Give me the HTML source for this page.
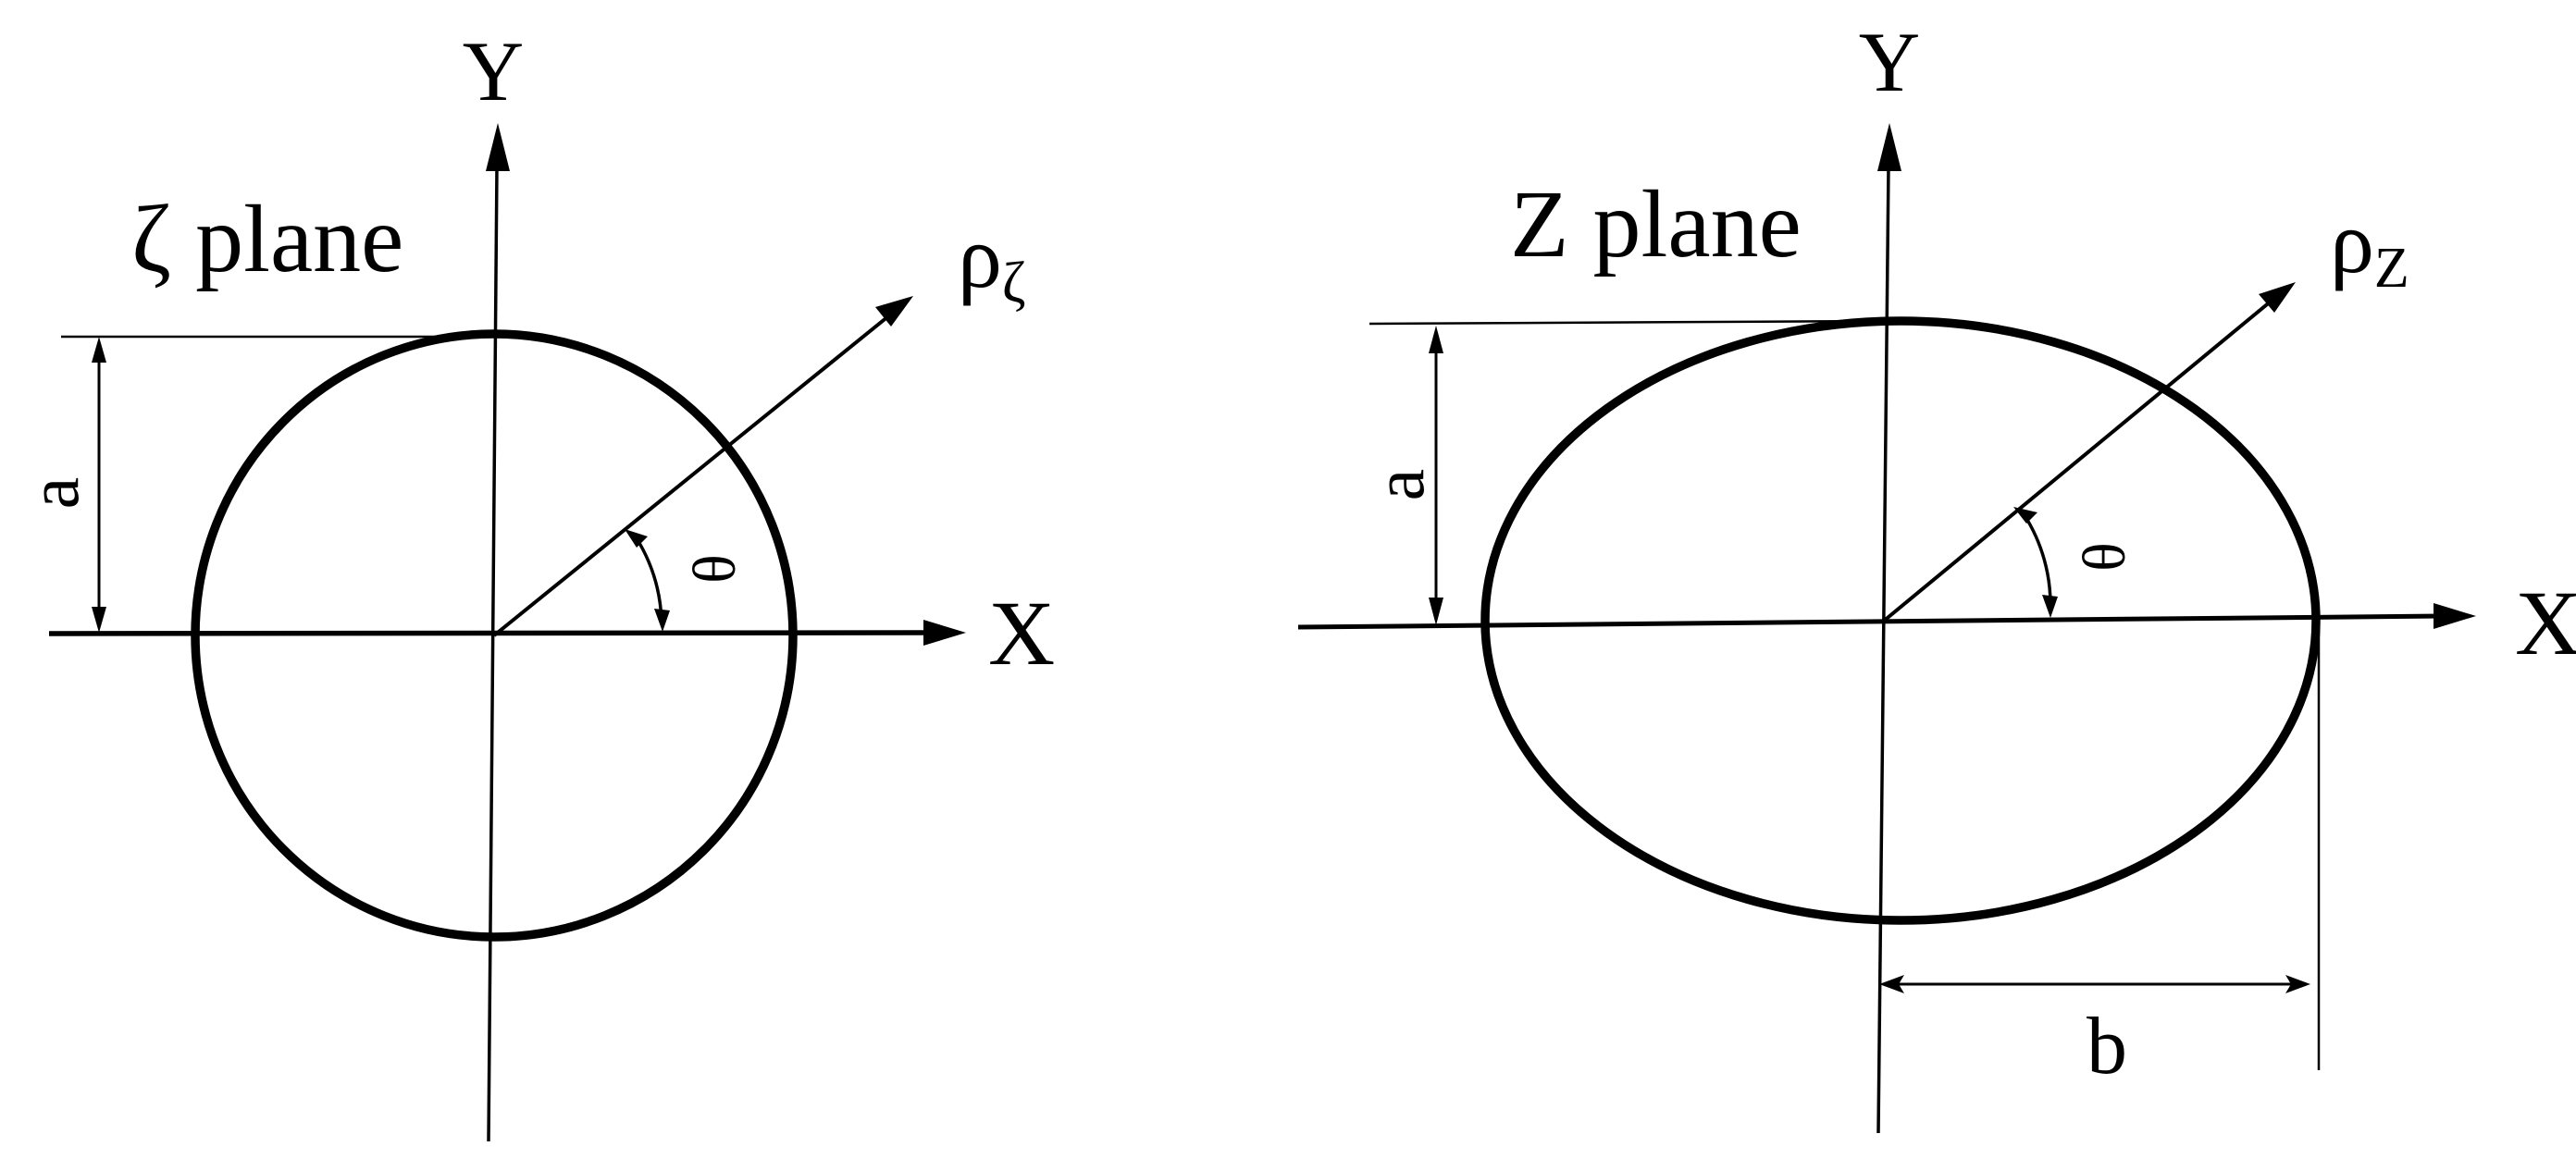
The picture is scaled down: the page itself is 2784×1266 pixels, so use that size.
<!DOCTYPE html>
<html><head><meta charset="utf-8"><style>
html,body{margin:0;padding:0;background:#fff;}
svg{display:block;}
text{font-family:"Liberation Serif","DejaVu Serif",serif;fill:#000;}
</style></head><body>
<svg width="2784" height="1266" viewBox="0 0 2784 1266" xmlns="http://www.w3.org/2000/svg">
<g stroke="#000" fill="none">
<!-- LEFT -->
<ellipse cx="534" cy="687" rx="323" ry="326" stroke-width="9.5"/>
<line x1="53" y1="685" x2="1000" y2="684" stroke-width="5.5"/>
<polygon points="1044,684 998,670 998,698" fill="#000" stroke="none"/>
<line x1="537" y1="180" x2="528" y2="1234" stroke-width="3.5"/>
<polygon points="538,133 525,185 551,185" fill="#000" stroke="none"/>
<line x1="534" y1="687" x2="960" y2="342" stroke-width="4"/>
<polygon points="987,320 946,332 963,353" fill="#000" stroke="none"/>
<line x1="66" y1="364" x2="488" y2="364" stroke-width="2.5"/>
<line x1="107" y1="376" x2="107" y2="672" stroke-width="3"/>
<polygon points="107,364 99,392 115,392" fill="#000" stroke="none"/>
<polygon points="107,684 99,656 115,656" fill="#000" stroke="none"/>
<path d="M688 582 A182 182 0 0 1 715 672" stroke-width="3.5"/>
<polygon points="675,572 700,580 688,592" fill="#000" stroke="none"/>
<polygon points="716,683 707,658 724,660" fill="#000" stroke="none"/>
<!-- RIGHT -->
<ellipse cx="2054" cy="671" rx="449" ry="324" stroke-width="9.5"/>
<line x1="1403" y1="678" x2="2640" y2="666" stroke-width="5"/>
<polygon points="2676,666 2630,652 2630,680" fill="#000" stroke="none"/>
<line x1="2041" y1="180" x2="2030" y2="1225" stroke-width="3.5"/>
<polygon points="2042,133 2029,185 2055,185" fill="#000" stroke="none"/>
<line x1="2035" y1="672" x2="2455" y2="325" stroke-width="4"/>
<polygon points="2481,305 2441,318 2458,338" fill="#000" stroke="none"/>
<line x1="1480" y1="350" x2="2040" y2="347" stroke-width="2.5"/>
<line x1="1552" y1="362" x2="1552" y2="664" stroke-width="3"/>
<polygon points="1552,352 1544,382 1560,382" fill="#000" stroke="none"/>
<polygon points="1552,676 1544,646 1560,646" fill="#000" stroke="none"/>
<path d="M2188 557 A182 182 0 0 1 2216 657" stroke-width="3.5"/>
<polygon points="2176,548 2202,554 2190,566" fill="#000" stroke="none"/>
<polygon points="2216,668 2207,643 2224,645" fill="#000" stroke="none"/>
<line x1="2040" y1="1064" x2="2490" y2="1064" stroke-width="3"/>
<polygon points="2031,1064 2058,1054 2052,1064 2058,1074" fill="#000" stroke="none"/>
<polygon points="2497,1064 2470,1054 2476,1064 2470,1074" fill="#000" stroke="none"/>
<line x1="2506" y1="680" x2="2506" y2="1157" stroke-width="2.5"/>
</g>
<!-- left labels -->
<text x="533" y="108" font-size="92" text-anchor="middle">Y</text>
<text x="142" y="293" font-size="104">ζ plane</text>
<text x="1035" y="310" font-size="96">ρ<tspan font-size="62" dy="16">ζ</tspan></text>
<text x="1068" y="718" font-size="100">X</text>
<text transform="translate(84,533) rotate(-90)" font-size="78" text-anchor="middle">a</text>
<text transform="translate(794,615) rotate(-90)" font-size="66" text-anchor="middle">θ</text>
<!-- right labels -->
<text x="2042" y="98" font-size="92" text-anchor="middle">Y</text>
<text x="1632" y="277" font-size="104">Z plane</text>
<text x="2518" y="294" font-size="96">ρ<tspan font-size="62" dy="16">Z</tspan></text>
<text x="2718" y="707" font-size="100">X</text>
<text transform="translate(1538,524) rotate(-90)" font-size="78" text-anchor="middle">a</text>
<text transform="translate(2296,602) rotate(-90)" font-size="66" text-anchor="middle">θ</text>
<text x="2277" y="1160" font-size="88" text-anchor="middle">b</text>
</svg>
</body></html>
